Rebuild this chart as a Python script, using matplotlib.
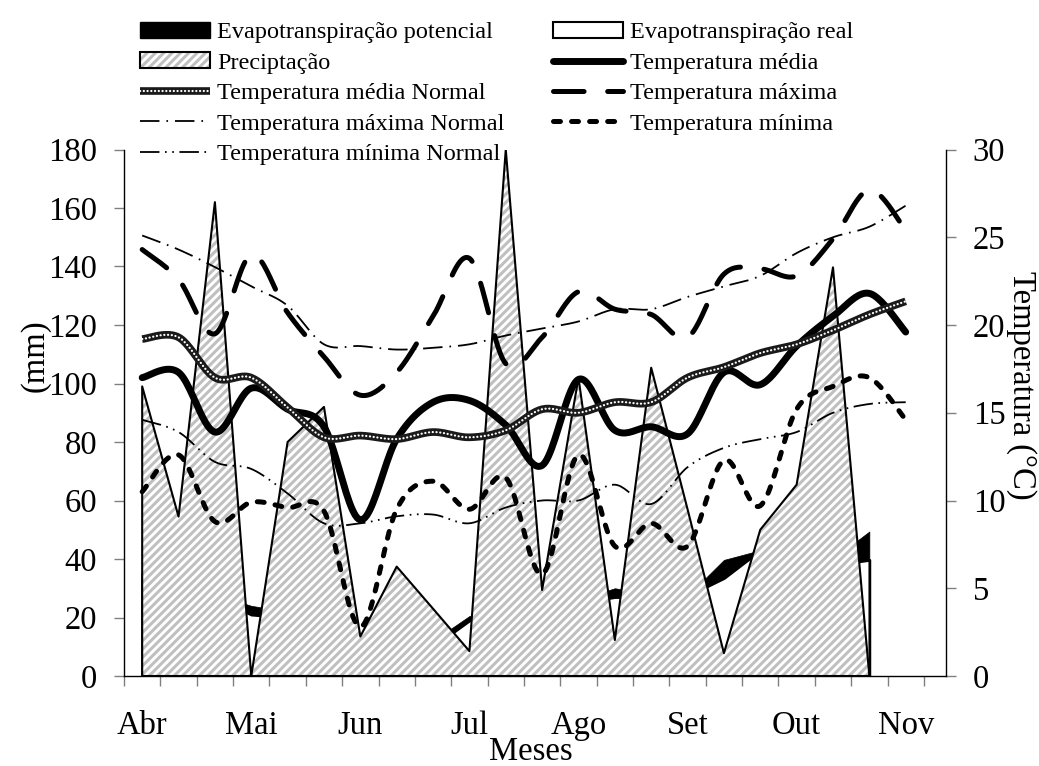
import numpy as np
import matplotlib
matplotlib.use("Agg")
import matplotlib.pyplot as plt
from matplotlib.lines import Line2D
from matplotlib.patches import Patch

plt.rcParams["font.family"] = ["Liberation Serif", "DejaVu Serif"]
plt.rcParams["hatch.linewidth"] = 2.2
plt.rcParams["lines.scale_dashes"] = False

# Ten-day periods (decêndios) from April to the first of November
months = ["Abr", "Mai", "Jun", "Jul", "Ago", "Set", "Out", "Nov"]

# Water balance terms (mm), 21 periods
etp = [35, 32, 28, 24, 22, 18, 13, 13, 12, 20.5, 22, 22, 26, 30, 28, 27.4, 39.7, 43, 45, 40, 49.4]
etr = [35, 32, 27, 21, 20, 18, 13, 13, 10, 19, 22, 22, 25, 27, 27, 27.4, 33.5, 43, 44, 38, 39.7]
prec = [99, 54.5, 162, 0, 80, 92, 13.5, 37.4, 23, 8.5, 180, 29.4, 102, 12.3, 105.4, 57, 7.8, 50, 65.4, 139.7, 0]

# Air temperature (°C), 22 periods
t_med = [17.0, 17.3, 13.9, 16.4, 15.2, 14.2, 8.9, 13.5, 15.6, 15.7, 14.3, 12.0,
         16.9, 14.0, 14.2, 13.8, 17.3, 16.6, 18.8, 20.5, 21.8, 19.6]
t_med_n = [19.2, 19.3, 17.0, 17.0, 15.3, 13.6, 13.7, 13.5, 13.9, 13.6, 14.0, 15.2,
           15.0, 15.6, 15.6, 17.0, 17.6, 18.4, 18.9, 19.7, 20.6, 21.35]
t_max = [24.3, 22.6, 19.5, 24.0, 20.7, 18.2, 16.0, 17.3, 20.5, 23.8, 17.8, 19.3,
         21.9, 20.9, 20.6, 19.3, 22.9, 23.2, 22.8, 24.9, 27.7, 25.4]
t_max_n = [25.1, 24.3, 23.3, 22.2, 21.1, 18.9, 18.8, 18.6, 18.7, 18.9, 19.4, 19.8,
           20.2, 20.9, 20.9, 21.6, 22.2, 22.8, 24.1, 25.0, 25.6, 26.8]
t_min = [10.5, 12.6, 8.8, 9.9, 9.6, 9.4, 2.8, 9.5, 11.1, 9.5, 11.3, 5.8,
         12.6, 7.4, 8.7, 7.4, 12.3, 9.7, 15.2, 16.5, 17.0, 14.6]
t_min_n = [14.6, 13.9, 12.2, 11.8, 10.4, 8.7, 8.7, 9.1, 9.2, 8.7, 9.6, 10.0,
           10.0, 10.9, 9.8, 11.9, 13.0, 13.5, 13.9, 15.0, 15.5, 15.6]


def smooth(values, samples=24):
    """Bezier (Catmull-Rom) curve through the points, like a smoothed line."""
    y = np.asarray(values, float)
    x = np.arange(len(y), dtype=float)
    n = len(y)
    xs, ys = [], []
    t = np.linspace(0, 1, samples)
    for i in range(n - 1):
        i0 = max(i - 1, 0)
        i3 = min(i + 2, n - 1)
        for arr, out in ((x, xs), (y, ys)):
            p1, p2 = arr[i], arr[i + 1]
            c1 = p1 + (p2 - arr[i0]) / 6.0
            c2 = p2 - (arr[i3] - p1) / 6.0
            b = ((1 - t) ** 3 * p1 + 3 * (1 - t) ** 2 * t * c1
                 + 3 * (1 - t) * t ** 2 * c2 + t ** 3 * p2)
            out.append(b if i == 0 else b[1:])
    return np.concatenate(xs), np.concatenate(ys)


W, H = 1039, 766
fig = plt.figure(figsize=(W / 100, H / 100), dpi=100)
ax = fig.add_axes([124 / W, 1 - 676 / H, (945.7 - 124) / W, (676 - 149.5) / H])
ax2 = ax.twinx()

hatch_grey = "#c0c0c0"
hatch = "////"
x_area = np.arange(len(prec))
ax.fill_between(x_area, etp, facecolor="black", edgecolor="black", lw=0.5, zorder=1)
ax.fill_between(x_area, etr, facecolor="white", edgecolor="black", lw=2.0, zorder=2)
ax.fill_between(x_area, prec, facecolor="white", edgecolor=hatch_grey, hatch=hatch,
                lw=0, zorder=3)
ax.fill_between(x_area, prec, facecolor="none", edgecolor="black", lw=1.5, zorder=4)

# temperature curves
st_med = dict(color="black", lw=5, solid_capstyle="round")
st_med_n_base = dict(color="#1a1a1a", lw=5.5, solid_capstyle="butt")
st_med_n_dots = dict(color="white", lw=1.6, dashes=(0.1, 2.6), dash_capstyle="round")
st_max = dict(color="black", lw=3.6, dashes=(22, 17), dash_capstyle="round")
st_max_n = dict(color="black", lw=1.3, dashes=(14, 5, 1.2, 5))
st_min = dict(color="black", lw=3.6, dashes=(5, 8), dash_capstyle="round")
st_min_n = dict(color="black", lw=1.3, dashes=(14, 4, 1.2, 4, 1.2, 4))

ax2.plot(*smooth(t_med), **st_med)
ax2.plot(*smooth(t_med_n), **st_med_n_base)
ax2.plot(*smooth(t_med_n), **st_med_n_dots)
ax2.plot(*smooth(t_max), **st_max)
ax2.plot(*smooth(t_max_n), **st_max_n)
ax2.plot(*smooth(t_min), **st_min)
ax2.plot(*smooth(t_min_n), **st_min_n)

# axes
ax.set_xlim(-0.5, 22.1)
ax.set_ylim(0, 180)
ax2.set_ylim(0, 30)
ax.set_xticks(np.arange(-0.5, 22, 1.0))
ax.set_xticks(np.arange(0, 22, 3), months, minor=True)
ax.set_yticks(np.arange(0, 181, 20))
ax2.set_yticks(np.arange(0, 31, 5))

tick_grey = "#808080"
ax.tick_params(axis="x", which="major", length=7, width=1, color=tick_grey,
               direction="out", labelbottom=False)
ax.tick_params(axis="x", which="minor", length=0, pad=25, labelsize=23.5)
ax.tick_params(axis="y", length=7, width=1, color=tick_grey, direction="out",
               pad=12.5, labelsize=23.5)
ax2.tick_params(axis="y", length=7, width=1, color=tick_grey, direction="out",
                pad=12.5, labelsize=23.5)

for s in ("top", "right"):
    ax.spines[s].set_visible(False)
for s in ("top", "left", "bottom"):
    ax2.spines[s].set_visible(False)
for sp in (ax.spines["left"], ax.spines["bottom"], ax2.spines["right"]):
    sp.set_linewidth(1.0)
    sp.set_color("black")

fig.text(35 / W, 1 - 356 / H, "(mm)", rotation=90, ha="center", va="center", fontsize=23.5)
fig.text(1021 / W, 1 - 385 / H, "Temperatura (°C)", rotation=270, ha="center",
         va="center", fontsize=23.5)
fig.text(531 / W, 1 - 752 / H, "Meses", ha="center", va="center", fontsize=23.5)

# legend (two columns)
h_etp = Patch(facecolor="black", edgecolor="black", lw=1.0)
h_etr = Patch(facecolor="white", edgecolor="black", lw=1.5)
h_prec = (Patch(facecolor="white", edgecolor=hatch_grey, hatch=hatch, lw=0),
          Patch(facecolor="none", edgecolor="black", lw=1.5))
h_med = Line2D([], [], **st_med)
h_med_n = (Line2D([], [], **st_med_n_base), Line2D([], [], **st_med_n_dots))
h_max = Line2D([], [], **st_max)
h_max_n = Line2D([], [], **st_max_n)
h_min = Line2D([], [], **st_min)
h_min_n = Line2D([], [], **st_min_n)

leg_kw = dict(loc="upper left", frameon=False, fontsize=17.5, handlelength=2.88,
              handleheight=0.62, handletextpad=0.29, labelspacing=0.37, borderpad=0,
              borderaxespad=0)
fig.legend([h_etp, h_prec, h_med_n, h_max_n, h_min_n],
           ["Evapotranspiração potencial", "Preciptação", "Temperatura média Normal",
            "Temperatura máxima Normal", "Temperatura mínima Normal"],
           bbox_to_anchor=(140 / W, 1 - 22 / H), **leg_kw)
fig.legend([h_etr, h_med, h_max, h_min],
           ["Evapotranspiração real", "Temperatura média", "Temperatura máxima",
            "Temperatura mínima"],
           bbox_to_anchor=(553 / W, 1 - 22 / H), **leg_kw)

fig.savefig("out.png", dpi=100)
